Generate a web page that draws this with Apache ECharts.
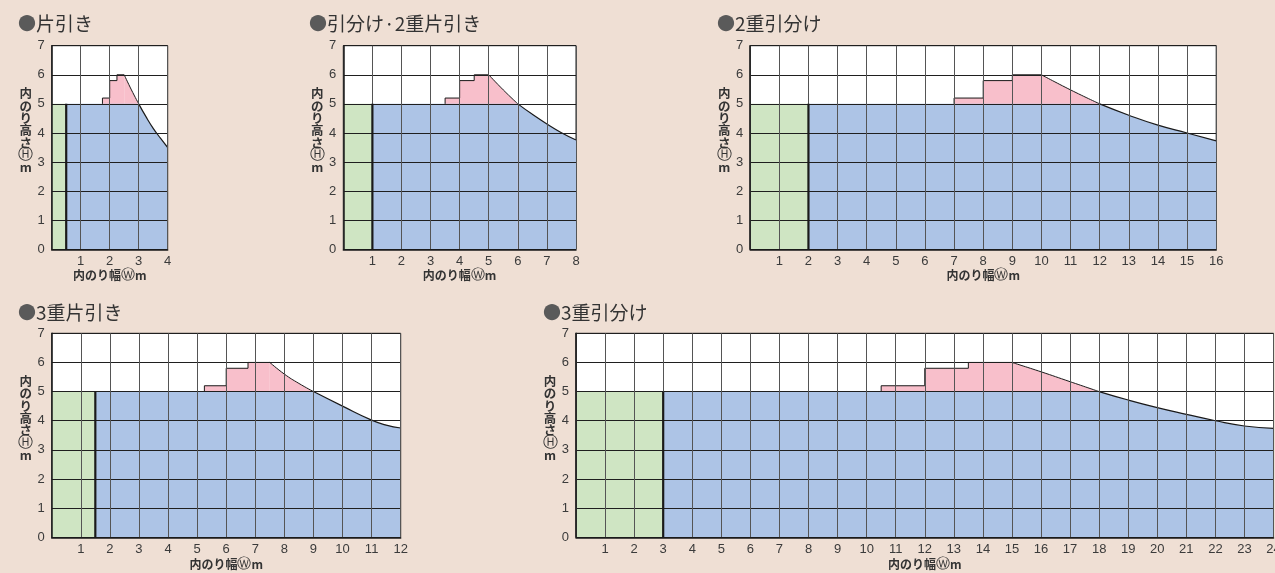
<!DOCTYPE html>
<html><head><meta charset="utf-8">
<script src="https://cdn.jsdelivr.net/npm/echarts@6/dist/echarts.min.js"></script>
<style>html,body{margin:0;padding:0;background:#efdfd4;overflow:hidden}#c{width:1275px;height:573px}</style>
</head><body><div id="c"></div><script>
// ---- data ----
const titles = ['片引き', '引分け·2重片引き', '2重引分け', '3重片引き', '3重引分け'];
const xMax = [4, 8, 16, 12, 24];
const yMax = 7;
const flatHeight = 5;
const greenEnd = [0.5, 1, 2, 1.5, 3];
// pink stepped outline (x, H)
const steps1 = [[1.75,5],[1.75,5.2],[2,5.2],[2,5.8],[2.25,5.8],[2.25,6],[2.5,6]];
const steps2 = [[3.5,5],[3.5,5.2],[4,5.2],[4,5.8],[4.5,5.8],[4.5,6],[5,6]];
const steps3 = [[7,5],[7,5.2],[8,5.2],[8,5.8],[9,5.8],[9,6],[10,6]];
const steps4 = [[5.25,5],[5.25,5.2],[6,5.2],[6,5.8],[6.75,5.8],[6.75,6],[7.5,6]];
const steps5 = [[10.5,5],[10.5,5.2],[12,5.2],[12,5.8],[13.5,5.8],[13.5,6],[15,6]];
// pink falling curve
const pinkCurve1 = [[2.5,6],[2.75,5.48],[3,5]];
const pinkCurve2 = [[5,6],[5.5,5.48],[6,5]];
const pinkCurve3 = [[10,6],[11,5.48],[12,5]];
const pinkCurve4 = [[7.5,6],[8,5.6],[8.5,5.28],[9,5]];
const pinkCurve5 = [[15,6],[16,5.68],[17,5.34],[18,5]];
// blue falling curve
const blueCurve1 = [[3,5],[3.25,4.56],[3.5,4.16],[3.75,3.82],[4,3.5]];
const blueCurve2 = [[6,5],[6.5,4.64],[7,4.31],[7.5,4.01],[8,3.76]];
const blueCurve3 = [[12,5],[13,4.61],[14,4.27],[15,4.0],[16,3.73]];
const blueCurve4 = [[9,5],[10,4.5],[11,4.02],[11.5,3.85],[12,3.75]];
const blueCurve5 = [[18,5],[19,4.71],[20,4.45],[21,4.22],[22,4.0],[23,3.82],[24,3.74]];

const stepsAll = [steps1, steps2, steps3, steps4, steps5];
const pinkAll = [pinkCurve1, pinkCurve2, pinkCurve3, pinkCurve4, pinkCurve5];
const blueAll = [blueCurve1, blueCurve2, blueCurve3, blueCurve4, blueCurve5];

// ---- layout / style ----
const layout = [
  {left:51.7, top:45.7, width:116, height:203.6, tl:13, tt:9},
  {left:343.3, top:45.7, width:232.7, height:203.6, tl:304, tt:9},
  {left:750.2, top:45.7, width:466, height:203.6, tl:712, tt:9},
  {left:51.7, top:333.3, width:349, height:204, tl:13, tt:298},
  {left:576, top:333.3, width:697.5, height:204, tl:538, tt:298}
];
const C = {blue:'#adc4e6', green:'#cfe5c3', pink:'#f8bfcb', line:'#1a1a1a', vgrid:'#555555', hgrid:'#1f1f1f', text:'#3b3b3b'};
const numFont = 'Liberation Sans, Arial, sans-serif';
const jpFont = 'Noto Sans CJK JP';
const circ = {fontSize:15, fontWeight:'normal', fontFamily:'DejaVu Sans', color:'#333', lineHeight:12.3};
const nm = {fontSize:12.5, fontWeight:'bold', fontFamily:jpFont, color:'#333', lineHeight:12.3};

const option = {backgroundColor:'#efdfd4', animation:false, title:[], grid:[], xAxis:[], yAxis:[], series:[]};

for (let i = 0; i < 5; i++) {
  const L = layout[i];
  option.title.push({
    text: '{b|●}{t|' + titles[i] + '}', left: L.tl, top: L.tt,
    textStyle: {fontWeight:'normal', rich: {
      b: {color:'#5a5a5a', fontSize:18, fontFamily: jpFont, fontWeight:'normal'},
      t: {color:'#333', fontSize:19, fontFamily: jpFont, fontWeight:'normal'}
    }}
  });
  option.grid.push({left:L.left, top:L.top, width:L.width, height:L.height, show:true,
    backgroundColor:'#ffffff', borderColor:C.line, borderWidth:1, outerBoundsMode:'none', containLabel:false});
  option.xAxis.push({type:'value', gridIndex:i, min:0, max:xMax[i], interval:1, z:10,
    name:'{a|内のり幅}{c|Ⓦ}{a|m}', nameLocation:'middle', nameGap: i < 3 ? 20 : 21, nameMoveOverlap:false,
    nameTextStyle:{fontSize:12, fontWeight:'bold', fontFamily:jpFont, color:'#333',
      rich:{a:Object.assign({}, nm, {fontSize:12}), c:Object.assign({}, circ, {fontSize:14})}},
    axisLine:{show:true, onZero:false, lineStyle:{color:C.line, width:1.5}},
    axisTick:{show:false},
    axisLabel:{margin:6, fontSize:13, color:C.text, fontFamily:numFont, hideOverlap:false,
      formatter: v => v === 0 ? '' : String(v)},
    splitLine:{show:true, lineStyle:{color:C.vgrid, width:1}}
  });
  option.yAxis.push({type:'value', gridIndex:i, min:0, max:yMax, interval:1, z:10,
    name:'{a|内}\n{a|の}\n{a|り}\n{a|高}\n{a|さ}\n{c|Ⓗ}\n{a|m}', nameLocation:'middle', nameRotate:0, nameGap:26, nameMoveOverlap:false,
    nameTextStyle:{fontSize:12.5, fontWeight:'bold', fontFamily:jpFont, color:'#333', lineHeight:12.3,
      align:'center', verticalAlign:'middle', padding:[0,0,34,0],
      rich:{a:Object.assign({align:'center'}, nm), c:Object.assign({align:'center'}, circ)}},
    axisLine:{show:true, onZero:false, lineStyle:{color:C.line, width:1.5}},
    axisTick:{show:false},
    axisLabel:{margin:7, fontSize:13, color:C.text, fontFamily:numFont},
    splitLine:{show:true, lineStyle:{color:C.hgrid, width:1}}
  });
  const base = {type:'line', xAxisIndex:i, yAxisIndex:i, symbol:'none', silent:true, z:2};
  const curve = {smooth:0.5};
  // pink stepped region
  option.series.push(Object.assign({}, base, {data: stepsAll[i],
    lineStyle:{color:C.line, width:1}, areaStyle:{color:C.pink, opacity:1}}));
  option.series.push(Object.assign({}, base, curve, {data: pinkAll[i],
    lineStyle:{color:C.line, width:1}, areaStyle:{color:C.pink, opacity:1}}));
  // green region
  option.series.push(Object.assign({}, base, {data: [[0, flatHeight],[greenEnd[i], flatHeight]],
    lineStyle:{width:0}, areaStyle:{color:C.green, opacity:1}}));
  // blue flat region
  option.series.push(Object.assign({}, base, {data: [[greenEnd[i], flatHeight],[blueAll[i][0][0], flatHeight]],
    lineStyle:{width:0}, areaStyle:{color:C.blue, opacity:1}}));
  // blue curve region
  option.series.push(Object.assign({}, base, curve, {data: blueAll[i],
    lineStyle:{color:C.line, width:1.2}, areaStyle:{color:C.blue, opacity:1}}));
  // thick boundary between green and blue
  option.series.push(Object.assign({}, base, {data: [[greenEnd[i],0],[greenEnd[i], flatHeight]], z:20,
    lineStyle:{color:C.line, width:2.2}}));
}

const chart = echarts.init(document.getElementById('c'));
chart.setOption(option);
</script></body></html>
